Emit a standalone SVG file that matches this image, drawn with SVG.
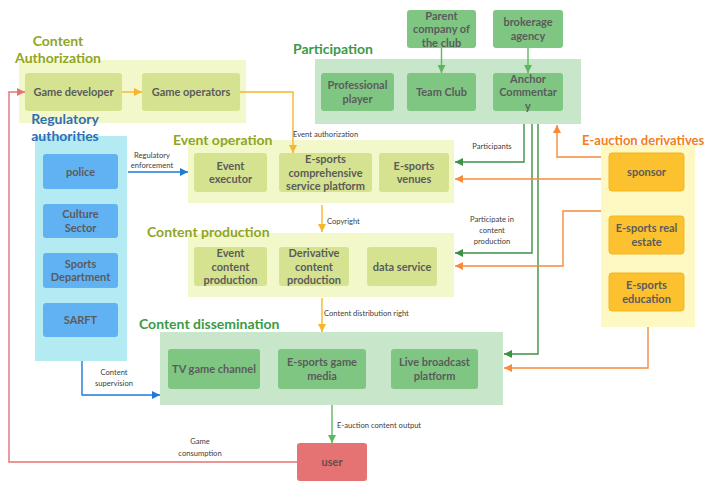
<svg xmlns="http://www.w3.org/2000/svg" width="710" height="482" viewBox="0 0 710 482">
  <defs>
    <style>
      text { font-family: Lato, "Open Sans", "Liberation Sans", sans-serif; }
      .box { font-size: 11px; font-weight: 700; fill: #5b5b5b; text-anchor: middle; }
      .title { font-size: 14px; font-weight: 700; }
      .lbl { font-size: 7.6px; fill: #404040; }
      .olive { fill: #8fa526; }
      .green { fill: #3a9a46; }
      .blue { fill: #2f6fb8; }
      .orange { fill: #f47d20; }
      .c-olive { fill: #f2f8c9; }
      .c-green { fill: #c8e6c9; }
      .c-blue { fill: #b4ebf3; }
      .c-orange { fill: #fef9c2; }
      .n-olive { fill: #d5e390; }
      .n-green { fill: #80c683; }
      .n-blue { fill: #61b2f2; }
      .n-orange { fill: #fbc12f; stroke: #f6b51e; stroke-width: 1; }
      .n-red { fill: #e57373; }
      .ln { fill: none; stroke-width: 1.4; }
      .gold { stroke: #f7b52b; }
      .org { stroke: #f68b3c; }
      .dg { stroke: #3e9143; }
      .lg { stroke: #5cb85c; }
      .bl { stroke: #1e7ad6; }
      .rd { stroke: #e57373; }
    </style>
    <marker id="ah-gold" viewBox="0 0 10 10" refX="10" refY="5" markerWidth="9" markerHeight="8" markerUnits="userSpaceOnUse" orient="auto"><path d="M0,0 L10,5 L0,10 z" fill="#f7b52b"/></marker>
    <marker id="ah-org" viewBox="0 0 10 10" refX="10" refY="5" markerWidth="9" markerHeight="8" markerUnits="userSpaceOnUse" orient="auto"><path d="M0,0 L10,5 L0,10 z" fill="#f68b3c"/></marker>
    <marker id="ah-dg" viewBox="0 0 10 10" refX="10" refY="5" markerWidth="9" markerHeight="8" markerUnits="userSpaceOnUse" orient="auto"><path d="M0,0 L10,5 L0,10 z" fill="#3e9143"/></marker>
    <marker id="ah-lg" viewBox="0 0 10 10" refX="10" refY="5" markerWidth="9" markerHeight="8" markerUnits="userSpaceOnUse" orient="auto"><path d="M0,0 L10,5 L0,10 z" fill="#5cb85c"/></marker>
    <marker id="ah-bl" viewBox="0 0 10 10" refX="10" refY="5" markerWidth="9" markerHeight="8" markerUnits="userSpaceOnUse" orient="auto"><path d="M0,0 L10,5 L0,10 z" fill="#1e7ad6"/></marker>
    <marker id="ah-rd" viewBox="0 0 10 10" refX="10" refY="5" markerWidth="9" markerHeight="8" markerUnits="userSpaceOnUse" orient="auto"><path d="M0,0 L10,5 L0,10 z" fill="#e57373"/></marker>
  </defs>

  <rect width="710" height="482" fill="#ffffff"/>

  <!-- Content Authorization -->
  <g id="content-authorization">
    <rect class="c-olive" x="19" y="60" width="227" height="63"/>
    <text class="title olive" text-anchor="middle"><tspan x="58" y="46">Content</tspan><tspan x="58" y="63">Authorization</tspan></text>
  </g>
  <g id="game-developer">
    <rect class="n-olive" x="25" y="73" width="97" height="38" rx="3"/>
    <text class="box" x="73.5" y="96">Game developer</text>
  </g>
  <g id="game-operators">
    <rect class="n-olive" x="142" y="73" width="98" height="38" rx="3"/>
    <text class="box" x="191" y="96">Game operators</text>
  </g>

  <!-- Participation -->
  <g id="participation">
    <rect class="c-green" x="315" y="59" width="266" height="65"/>
    <text class="title green" x="293" y="54">Participation</text>
  </g>
  <g id="parent-company">
    <rect class="n-green" x="407" y="10" width="69" height="38" rx="3"/>
    <text class="box"><tspan x="441.5" y="19.5">Parent</tspan><tspan x="441.5" y="33">company of</tspan><tspan x="441.5" y="46.5">the club</tspan></text>
  </g>
  <g id="brokerage-agency">
    <rect class="n-green" x="493" y="10" width="70" height="38" rx="3"/>
    <text class="box"><tspan x="528" y="26.25">brokerage</tspan><tspan x="528" y="39.75">agency</tspan></text>
  </g>
  <g id="professional-player">
    <rect class="n-green" x="321" y="73" width="73" height="38" rx="3"/>
    <text class="box"><tspan x="357.5" y="89.25">Professional</tspan><tspan x="357.5" y="102.75">player</tspan></text>
  </g>
  <g id="team-club">
    <rect class="n-green" x="407" y="73" width="69" height="38" rx="3"/>
    <text class="box" x="441.5" y="96">Team Club</text>
  </g>
  <g id="anchor-commentary">
    <rect class="n-green" x="493" y="73" width="70" height="38" rx="3"/>
    <text class="box"><tspan x="528" y="82.5">Anchor</tspan><tspan x="528" y="96">Commentar</tspan><tspan x="528" y="109.5">y</tspan></text>
  </g>

  <!-- Regulatory authorities -->
  <g id="regulatory-authorities">
    <rect class="c-blue" x="35" y="136" width="92" height="225"/>
    <text class="title blue" text-anchor="middle"><tspan x="65" y="124">Regulatory</tspan><tspan x="65" y="141">authorities</tspan></text>
  </g>
  <g id="police">
    <rect class="n-blue" x="43" y="154" width="75" height="35" rx="3"/>
    <text class="box" x="80.5" y="175.5">police</text>
  </g>
  <g id="culture-sector">
    <rect class="n-blue" x="43" y="204" width="75" height="34" rx="3"/>
    <text class="box"><tspan x="80.5" y="218.25">Culture</tspan><tspan x="80.5" y="231.75">Sector</tspan></text>
  </g>
  <g id="sports-department">
    <rect class="n-blue" x="43" y="253" width="75" height="35" rx="3"/>
    <text class="box"><tspan x="80.5" y="267.75">Sports</tspan><tspan x="80.5" y="281.25">Department</tspan></text>
  </g>
  <g id="sarft">
    <rect class="n-blue" x="43" y="303" width="75" height="34" rx="3"/>
    <text class="box" x="80.5" y="324">SARFT</text>
  </g>

  <!-- Event operation -->
  <g id="event-operation">
    <rect class="c-olive" x="188" y="140" width="266" height="63"/>
    <text class="title olive" x="173" y="145">Event operation</text>
  </g>
  <g id="event-executor">
    <rect class="n-olive" x="194" y="153" width="73" height="39" rx="3"/>
    <text class="box"><tspan x="230.5" y="169.75">Event</tspan><tspan x="230.5" y="183.25">executor</tspan></text>
  </g>
  <g id="esports-platform">
    <rect class="n-olive" x="279" y="153" width="93" height="39" rx="3"/>
    <text class="box"><tspan x="325.5" y="163">E-sports</tspan><tspan x="325.5" y="176.5">comprehensive</tspan><tspan x="325.5" y="190">service platform</tspan></text>
  </g>
  <g id="esports-venues">
    <rect class="n-olive" x="379" y="153" width="70" height="39" rx="3"/>
    <text class="box"><tspan x="414" y="169.75">E-sports</tspan><tspan x="414" y="183.25">venues</tspan></text>
  </g>

  <!-- Content production -->
  <g id="content-production">
    <rect class="c-olive" x="188" y="233" width="266" height="64"/>
    <text class="title olive" x="147" y="237">Content production</text>
  </g>
  <g id="event-content-production">
    <rect class="n-olive" x="194" y="247" width="73" height="39" rx="3"/>
    <text class="box"><tspan x="230.5" y="257">Event</tspan><tspan x="230.5" y="270.5">content</tspan><tspan x="230.5" y="284">production</tspan></text>
  </g>
  <g id="derivative-content-production">
    <rect class="n-olive" x="279" y="247" width="70" height="39" rx="3"/>
    <text class="box"><tspan x="314" y="257">Derivative</tspan><tspan x="314" y="270.5">content</tspan><tspan x="314" y="284">production</tspan></text>
  </g>
  <g id="data-service">
    <rect class="n-olive" x="367" y="247" width="70" height="39" rx="3"/>
    <text class="box" x="402" y="270.5">data service</text>
  </g>

  <!-- Content dissemination -->
  <g id="content-dissemination">
    <rect class="c-green" x="160" y="332" width="343" height="73"/>
    <text class="title green" x="139" y="329">Content dissemination</text>
  </g>
  <g id="tv-game-channel">
    <rect class="n-green" x="168" y="349" width="92" height="40" rx="3"/>
    <text class="box" x="214" y="373">TV game channel</text>
  </g>
  <g id="esports-game-media">
    <rect class="n-green" x="278" y="349" width="88" height="40" rx="3"/>
    <text class="box"><tspan x="322" y="366.25">E-sports game</tspan><tspan x="322" y="379.75">media</tspan></text>
  </g>
  <g id="live-broadcast-platform">
    <rect class="n-green" x="391" y="349" width="87" height="40" rx="3"/>
    <text class="box"><tspan x="434.5" y="366.25">Live broadcast</tspan><tspan x="434.5" y="379.75">platform</tspan></text>
  </g>

  <!-- E-auction derivatives -->
  <g id="eauction-derivatives">
    <rect class="c-orange" x="601" y="145" width="94" height="182"/>
    <text class="title orange" x="582" y="145" style="font-size:13px">E-auction derivatives</text>
  </g>
  <g id="sponsor">
    <rect class="n-orange" x="609" y="153" width="75" height="38" rx="3"/>
    <text class="box" x="646.5" y="176">sponsor</text>
  </g>
  <g id="esports-real-estate">
    <rect class="n-orange" x="609" y="216" width="75" height="38" rx="3"/>
    <text class="box"><tspan x="646.5" y="232.25">E-sports real</tspan><tspan x="646.5" y="245.75">estate</tspan></text>
  </g>
  <g id="esports-education">
    <rect class="n-orange" x="609" y="273" width="75" height="38" rx="3"/>
    <text class="box"><tspan x="646.5" y="289.25">E-sports</tspan><tspan x="646.5" y="302.75">education</tspan></text>
  </g>

  <!-- User -->
  <g id="user">
    <rect class="n-red" x="297" y="443" width="70" height="38" rx="3"/>
    <text class="box" x="332" y="466" style="fill:#6b4a4a">user</text>
  </g>

  <!-- Connectors -->
  <g id="connectors">
    <path class="ln gold" d="M122,92 H142" marker-end="url(#ah-gold)"/>
    <path class="ln gold" d="M240,92 H293 V153" marker-end="url(#ah-gold)"/>
    <path class="ln gold" d="M322,205 V232" marker-end="url(#ah-gold)"/>
    <path class="ln gold" d="M322,298 V332" marker-end="url(#ah-gold)"/>

    <path class="ln lg" d="M441.5,48 V73" marker-end="url(#ah-lg)"/>
    <path class="ln lg" d="M528,48 V73" marker-end="url(#ah-lg)"/>
    <path class="ln lg" d="M332,405 V443" marker-end="url(#ah-lg)"/>

    <path class="ln dg" d="M524,124 V162 H455" marker-end="url(#ah-dg)"/>
    <path class="ln dg" d="M532,124 V253 H455" marker-end="url(#ah-dg)"/>
    <path class="ln dg" d="M538,124 V354 H504" marker-end="url(#ah-dg)"/>

    <path class="ln org" d="M601,157 H557 V125" marker-end="url(#ah-org)"/>
    <path class="ln org" d="M601,179 H455" marker-end="url(#ah-org)"/>
    <path class="ln org" d="M601,211 H563 V266 H455" marker-end="url(#ah-org)"/>
    <path class="ln org" d="M648,327 V368 H504" marker-end="url(#ah-org)"/>

    <path class="ln bl" d="M128,172 H188" marker-end="url(#ah-bl)"/>
    <path class="ln bl" d="M82,361 V395 H160" marker-end="url(#ah-bl)"/>

    <path class="ln rd" d="M297,462 H9 V92 H25" marker-end="url(#ah-rd)"/>

    <text class="lbl" text-anchor="middle"><tspan x="152" y="158">Regulatory</tspan><tspan x="152" y="168">enforcement</tspan></text>
    <text class="lbl" x="293" y="137">Event authorization</text>
    <text class="lbl" x="492" y="149" text-anchor="middle">Participants</text>
    <text class="lbl" x="327" y="224">Copyright</text>
    <text class="lbl" text-anchor="middle"><tspan x="492" y="222">Participate in</tspan><tspan x="492" y="233">content</tspan><tspan x="492" y="244">production</tspan></text>
    <text class="lbl" x="324" y="316">Content distribution right</text>
    <text class="lbl" text-anchor="middle"><tspan x="114" y="375">Content</tspan><tspan x="114" y="386">supervision</tspan></text>
    <text class="lbl" x="337" y="428">E-auction content output</text>
    <text class="lbl" text-anchor="middle"><tspan x="200" y="444">Game</tspan><tspan x="200" y="456">consumption</tspan></text>
  </g>
</svg>
